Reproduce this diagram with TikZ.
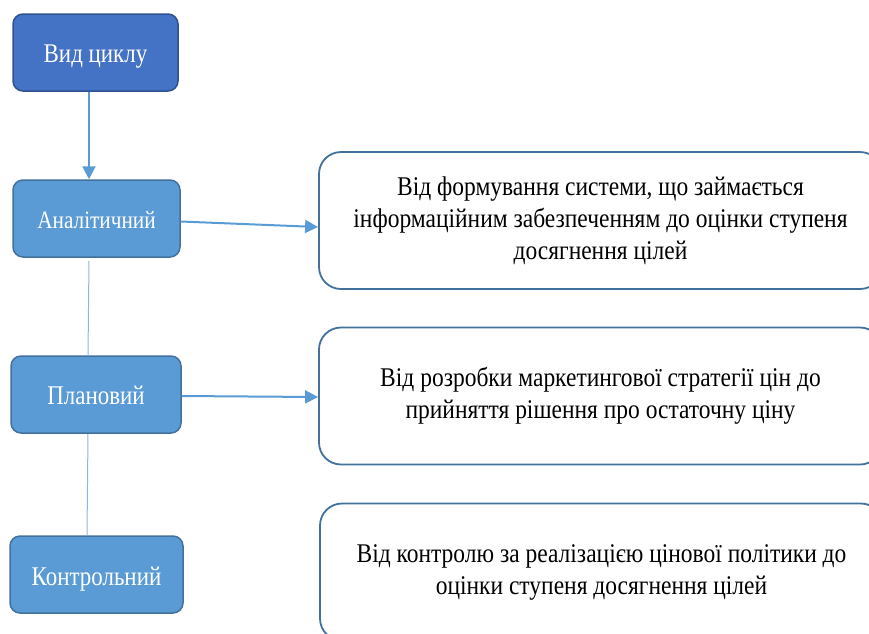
\documentclass[tikz,border=0pt]{standalone}
\usepackage{fontspec}
\setmainfont{Liberation Serif}
\newfontfamily\condfont[FakeStretch=0.87]{Liberation Serif}
\newfontfamily\condlabel[FakeStretch=0.85]{Liberation Serif}
\usetikzlibrary{arrows.meta}
\definecolor{darkblue}{HTML}{4472C4}
\definecolor{darkborder}{HTML}{2F528F}
\definecolor{midblue}{HTML}{5B9BD5}
\definecolor{midborder}{HTML}{41719C}
\definecolor{lineblue}{HTML}{5B9BD5}
\definecolor{thinblue}{HTML}{8DB4E2}
\newcommand{\lowlabel}[2]{\raisebox{-#1pt}[0pt][0pt]{#2}}
\tikzset{
  typebox/.style={draw=midborder, fill=midblue, line width=1.5pt, rounded corners=10pt,
    minimum height=77pt, inner sep=0pt, text=white, font=\condlabel\fontsize{25}{30}\selectfont},
  bigtext/.style={font=\condlabel\fontsize{27}{30}\selectfont},
  descbox/.style={draw=midborder, fill=white, line width=1.8pt, rounded corners=22pt,
    minimum width=563pt, minimum height=137pt, inner sep=0pt, align=center,
    font=\condfont\fontsize{27}{32}\selectfont},
  arr/.style={draw=lineblue, line width=2pt, -{Triangle[length=13pt,width=13pt]}},
  thin/.style={draw=thinblue, line width=1pt}
}
\begin{document}
\begin{tikzpicture}[x=1pt,y=-1pt]
\useasboundingbox (0,0) rectangle (869,633);
\clip (0,0) rectangle (869,633);
\node[typebox, bigtext, fill=darkblue, draw=darkborder, minimum width=165pt] (cyc) at (95.5,52.5) {\lowlabel{10}{Вид циклу}};
\node[typebox, minimum width=167pt] (an) at (96.5,218.5) {\lowlabel{10}{Аналітичний}};
\node[typebox, bigtext, minimum width=170pt] (pl) at (96,394.5) {\lowlabel{10}{Плановий}};
\node[typebox, bigtext, minimum width=173pt] (ko) at (96.5,574.5) {\lowlabel{11}{Контрольний}};
\node[descbox] (d1) at (600.5,220.5) {Від формування системи, що займається\\інформаційним забезпеченням до оцінки ступеня\\досягнення цілей};
\node[descbox] (d2) at (600.5,396) {Від розробки маркетингової стратегії цін до\\прийняття рішення про остаточну ціну};
\node[descbox] (d3) at (601.5,572) {Від контролю за реалізацією цінової політики до\\оцінки ступеня досягнення цілей};
\draw[arr] ([xshift=-6.5pt]cyc.south) -- ([xshift=-7.5pt]an.north);
\draw[thin] ([xshift=-7.5pt,yshift=-3pt]an.south) -- ([xshift=-8pt]pl.north);
\draw[thin] ([xshift=-8pt]pl.south) -- ([xshift=-9.5pt]ko.north);
\draw[arr] ([yshift=-3pt]an.east) -- ([yshift=-6.5pt]d1.west);
\draw[arr] ([yshift=-1.5pt]pl.east) -- ([yshift=-1pt]d2.west);
\end{tikzpicture}
\end{document}
